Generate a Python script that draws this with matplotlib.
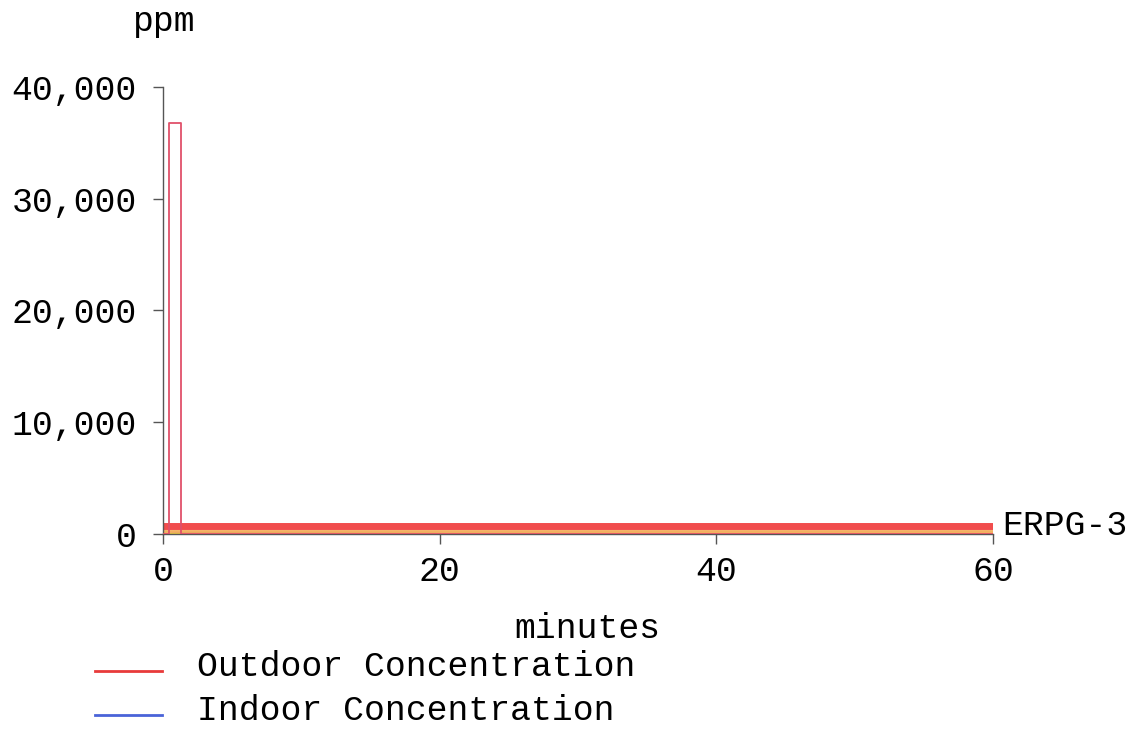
import matplotlib
matplotlib.use("Agg")
import matplotlib.pyplot as plt
from matplotlib.ticker import FuncFormatter

# outdoor concentration: short puff, then nothing
outdoor_time = [0, 0.42, 1.27, 60]
outdoor_ppm = [0, 36800, 0, 0]

# indoor concentration stays very low
indoor_time = [0, 1.3, 5, 10, 20, 40, 60]
indoor_ppm = [0, 60, 55, 45, 30, 15, 6]

# levels of concern
loc_names = ["ERPG-3", "ERPG-2", "ERPG-1"]
loc_ppm = [750, 150, 25]
loc_colors = ["#f03a3a", "#f2a850", "#f5d63a"]
loc_widths = [5, 3.5, 2]

x_ticks = [0, 20, 40, 60]
y_ticks = [0, 10000, 20000, 30000, 40000]

plt.rcParams["font.family"] = ["Liberation Mono", "DejaVu Sans Mono"]
FS = 25

fig = plt.figure(figsize=(11.33, 7.31), dpi=100)
ax = fig.add_axes([0.1439, 0.2695, 0.7325, 0.6115])

ax.plot(indoor_time, indoor_ppm, color="#4a63d8", lw=1.2, zorder=1)
for name, val, c, w in zip(loc_names, loc_ppm, loc_colors, loc_widths):
    ax.plot([0, 60], [val, val], color=c, lw=w, alpha=0.9, zorder=2,
            solid_capstyle="butt")
ax.step(outdoor_time, outdoor_ppm, where="post", color="#e0506a", lw=1.3, zorder=3)

ax.text(60.7, loc_ppm[0], loc_names[0], fontsize=FS, va="center", ha="left")

ax.set_xlim(0, 60)
ax.set_ylim(0, 40000)
ax.set_xticks(x_ticks)
ax.set_yticks(y_ticks)
ax.yaxis.set_major_formatter(FuncFormatter(lambda v, p: f"{int(v):,}"))
for s in ["top", "right"]:
    ax.spines[s].set_visible(False)
for s in ["left", "bottom"]:
    ax.spines[s].set_color("#555555")
    ax.spines[s].set_linewidth(1.0)
ax.tick_params(direction="out", length=7, width=1.0, color="#555555",
               labelsize=FS, pad=12)
ax.tick_params(axis="x", pad=8)

fig.text(587 / 1133, 1 - 629 / 731, "minutes", fontsize=FS, ha="center", va="center")
fig.text(164 / 1133, 1 - 22 / 731, "ppm", fontsize=FS, ha="center", va="center")

# legend rows placed by hand under the x label
legend_labels = ["Outdoor Concentration", "Indoor Concentration"]
legend_colors = ["#e83a3a", "#4a63d8"]
legend_rows = [667, 711]
for lab, col, row in zip(legend_labels, legend_colors, legend_rows):
    y = 1 - row / 731
    fig.add_artist(plt.Line2D([95 / 1133, 162 / 1133], [y - 4 / 731, y - 4 / 731],
                              color=col, lw=2.0, transform=fig.transFigure))
    fig.text(197 / 1133, y, lab, fontsize=FS, ha="left", va="center")

fig.savefig("out.png", dpi=100)
